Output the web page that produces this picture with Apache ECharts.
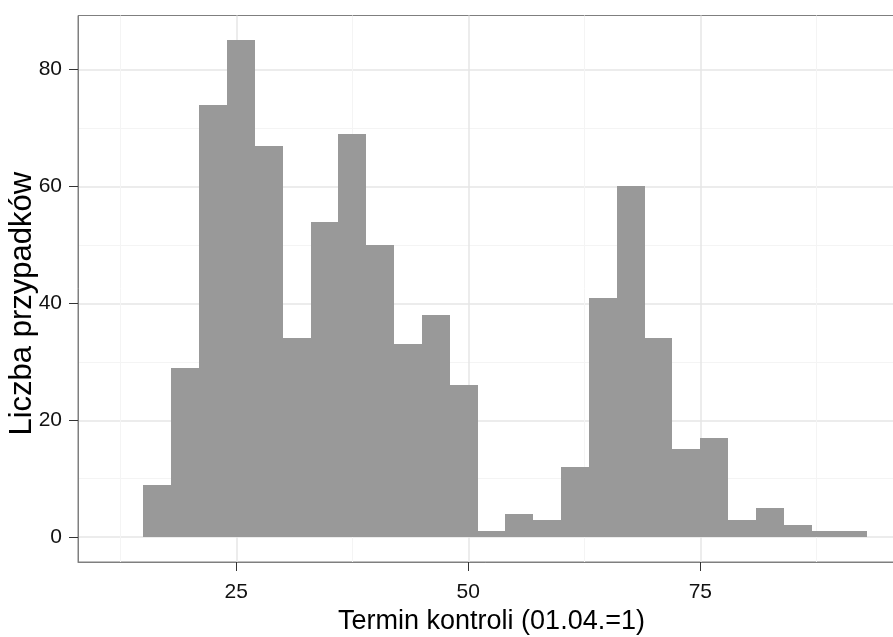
<!DOCTYPE html>
<html>
<head>
<meta charset="utf-8">
<script src="https://cdn.jsdelivr.net/npm/echarts@6/dist/echarts.min.js"></script>
<style>
  html, body { margin: 0; padding: 0; background: #ffffff; }
  #chart { width: 893px; height: 637px; }
</style>
</head>
<body>
<div id="chart"></div>
<script>
// Histogram bins: lower edge of each bin, common bin width, and case counts
const binStarts = [15, 18, 21, 24, 27, 30, 33, 36, 39, 42, 45, 48, 51, 54, 57, 60, 63, 66, 69, 72, 75, 78, 81, 84, 87, 90];
const binWidth = 3;
const counts = [9, 29, 74, 85, 67, 34, 54, 69, 50, 33, 38, 26, 1, 4, 3, 12, 41, 60, 34, 15, 17, 3, 5, 2, 1, 1];

// Axis breaks (major and minor)
const xTicks = [25, 50, 75];
const xMinorTicks = [12.5, 37.5, 62.5, 87.5];
const yTicks = [0, 20, 40, 60, 80];
const yMinorTicks = [10, 30, 50, 70];

const xTitle = 'Termin kontroli (01.04.=1)';
const yTitle = 'Liczba przypadków';

const FONT = "'Liberation Sans', Arial, Helvetica, sans-serif";
const X_MIN = 7.95, X_MAX = 97.05;
const Y_MIN = -4.25, Y_MAX = 89.25;
const BAR_FILL = '#999999';

const binData = binStarts.map((s, i) => [s, s + binWidth, counts[i]]);

const chart = echarts.init(document.getElementById('chart'), null, { renderer: 'canvas' });

const hiddenParts = {
  axisLine: { show: false },
  axisLabel: { show: false }
};

chart.setOption({
  animation: false,
  backgroundColor: '#ffffff',
  grid: {
    left: 78, top: 15.5, bottom: 75, right: -12,
    outerBoundsMode: 'none',
    containLabel: false,
    show: true, backgroundColor: '#ffffff',
    borderColor: '#7f7f7f', borderWidth: 1
  },
  xAxis: [
    {
      type: 'value', min: X_MIN, max: X_MAX, position: 'bottom',
      name: xTitle, nameLocation: 'middle', nameGap: 46, nameMoveOverlap: false,
      nameTextStyle: { fontFamily: FONT, fontSize: 27, color: '#000' },
      axisLine: { show: true, onZero: false, lineStyle: { color: '#7f7f7f', width: 1 } },
      axisTick: { show: true, inside: false, length: 9, customValues: xTicks, lineStyle: { color: '#333', width: 1 } },
      axisLabel: { show: true, customValues: xTicks, margin: 20, fontFamily: FONT, fontSize: 21, color: '#111' },
      splitLine: { show: true, lineStyle: { color: '#e6e6e6', width: 1.5 } },
      minorSplitLine: { show: false }
    },
    Object.assign({
      type: 'value', min: X_MIN, max: X_MAX, position: 'bottom',
      splitLine: { show: true, lineStyle: { color: '#f4f4f4', width: 1 } }
    }, hiddenParts, { axisTick: { show: false, customValues: xMinorTicks } })
  ],
  yAxis: [
    {
      type: 'value', min: Y_MIN, max: Y_MAX, position: 'left',
      name: yTitle, nameLocation: 'middle', nameGap: 40, nameMoveOverlap: false,
      nameTextStyle: { fontFamily: FONT, fontSize: 31, color: '#000', padding: [0, 30, 0, 0] },
      axisLine: { show: true, onZero: false, lineStyle: { color: '#7f7f7f', width: 1 } },
      axisTick: { show: true, inside: false, length: 9, customValues: yTicks, lineStyle: { color: '#333', width: 1 } },
      axisLabel: { show: true, customValues: yTicks, margin: 16, fontFamily: FONT, fontSize: 21, color: '#111' },
      splitLine: { show: true, lineStyle: { color: '#e6e6e6', width: 1.5 } }
    },
    Object.assign({
      type: 'value', min: Y_MIN, max: Y_MAX, position: 'left',
      splitLine: { show: true, lineStyle: { color: '#f4f4f4', width: 1 } }
    }, hiddenParts, { axisTick: { show: false, customValues: yMinorTicks } })
  ],
  series: [
    {
      type: 'custom',
      xAxisIndex: 0, yAxisIndex: 0,
      encode: { x: [0, 1], y: 2 },
      data: binData,
      renderItem: function (params, api) {
        const topLeft = api.coord([api.value(0), api.value(2)]);
        const bottomRight = api.coord([api.value(1), 0]);
        // snap bin edges to whole pixels so neighbouring bars meet without seams
        const x0 = Math.round(topLeft[0]);
        const x1 = Math.round(bottomRight[0]);
        const y0 = Math.round(topLeft[1]);
        const y1 = Math.round(bottomRight[1]);
        return {
          type: 'rect',
          shape: { x: x0, y: y0, width: x1 - x0, height: y1 - y0 },
          style: { fill: BAR_FILL }
        };
      }
    }
  ]
});
</script>
</body>
</html>
